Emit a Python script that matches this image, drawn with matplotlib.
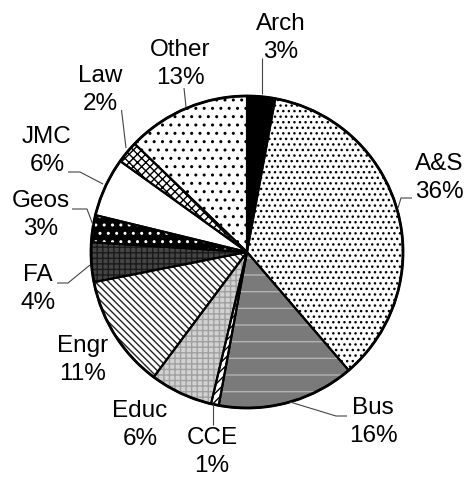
import matplotlib
matplotlib.use("Agg")
import matplotlib.pyplot as plt
from matplotlib.patches import Circle

# ---- data ----
categories = ["Arch", "A&S", "Bus", "CCE", "Educ", "Engr", "FA", "Geos", "JMC", "Law", "Other"]
shares = [2.9, 35.8, 14.2, 0.8, 6.5, 11.7, 4.1, 2.8, 6.1, 2.3, 12.8]
pct_labels = ["3%", "36%", "16%", "1%", "6%", "11%", "4%", "3%", "6%", "2%", "13%"]

# ---- layout / style ----
W, H = 466, 479
plt.rcParams['font.family'] = ['Liberation Sans', 'DejaVu Sans']
plt.rcParams['hatch.linewidth'] = 1.0

fig = plt.figure(figsize=(W / 100, H / 100), dpi=100)
ax = fig.add_axes([0, 0, 1, 1])

def px(x, y):
    return (x, H - y)

cx, cy = px(247, 252)
R = 156

styles = {  # facecolor, hatch, hatch colour
    "Arch": ("black", None, "black"),
    "A&S": ("white", "...", "black"),
    "Bus": ("#7a7a7a", "-", "#b4b4b4"),
    "CCE": ("white", "////", "black"),
    "Educ": ("#d2d2d2", "+++", "#a0a0a0"),
    "Engr": ("white", "\\\\\\\\\\", "#222222"),
    "FA": ("#454545", "+++", "#1a1a1a"),
    "Geos": ("black", "..", "white"),
    "JMC": ("white", None, "white"),
    "Law": ("white", "xxxx", "black"),
    "Other": ("white", "..", "black"),
}

wedges, _ = ax.pie(shares, startangle=90, counterclock=False, center=(cx, cy),
                   radius=R, wedgeprops=dict(linewidth=0))
for w, c in zip(wedges, categories):
    fc, h, hc = styles[c]
    w.set_facecolor(fc)
    w.set_edgecolor(hc)
    w.set_hatch(h)
    w.set_linewidth(0)

ax.pie(shares, startangle=90, counterclock=False, center=(cx, cy), radius=R,
       wedgeprops=dict(facecolor='none', edgecolor='black', linewidth=1.5))
ax.add_patch(Circle((cx, cy), R, fill=False, edgecolor='black', linewidth=2.0))

label_pos = {
    "Arch": (281, 38), "A&S": (439, 178), "Bus": (373, 422), "CCE": (212, 452),
    "Educ": (140, 425), "Engr": (83, 360), "FA": (38, 289), "Geos": (41, 215),
    "JMC": (47, 151), "Law": (100, 90), "Other": (180, 64),
}
leaders = {
    "Arch": [(261.5, 58), (261.5, 94)],
    "A&S": [(412, 198), (401, 198), (398, 208)],
    "Bus": [(290, 402), (336, 416), (347, 416)],
    "CCE": [(213, 404), (213, 425)],
    "FA": [(57, 283), (68, 283), (90, 265)],
    "Geos": [(72, 209), (87, 209), (93, 225)],
    "JMC": [(68, 172), (80, 172), (103, 184)],
    "Law": [(121.5, 110), (126, 148)],
    "Other": [(184, 88), (186, 107)],
}

for c, p in zip(categories, pct_labels):
    x, y = px(*label_pos[c])
    ax.text(x, y, f"{c}\n{p}", ha='center', va='center', fontsize=17.5,
            linespacing=1.32, color='black')
    if c in leaders:
        pts = [px(*q) for q in leaders[c]]
        ax.plot([q[0] for q in pts], [q[1] for q in pts], color='#444444',
                linewidth=0.8, solid_capstyle='butt')

ax.set_xlim(0, W)
ax.set_ylim(0, H)
ax.set_aspect('auto')
ax.axis('off')
fig.savefig("out.png", dpi=100, facecolor='white')
